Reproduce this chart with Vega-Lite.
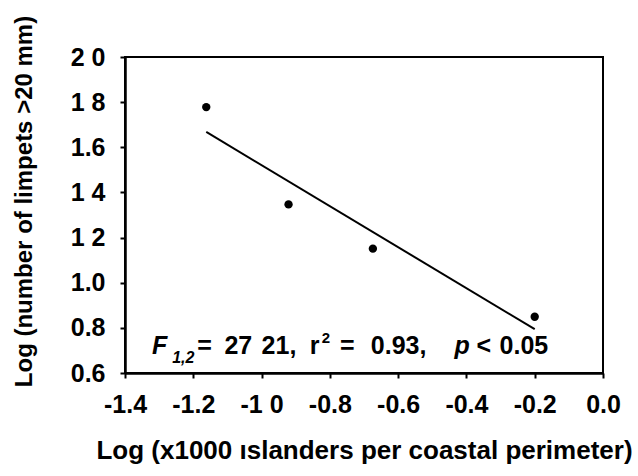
{
  "$schema": "https://vega.github.io/schema/vega-lite/v6.json",
  "width": 478,
  "height": 316,
  "autosize": {"type": "none"},
  "padding": {"left": 125, "top": 57, "right": 35, "bottom": 103},
  "background": "white",
  "config": {
    "view": {"stroke": "black", "strokeWidth": 2},
    "axis": {
      "grid": false,
      "labelFlush": false,
      "labelOverlap": false,
      "domainColor": "black",
      "domainWidth": 2.5,
      "tickColor": "black",
      "tickWidth": 2,
      "tickSize": 5,
      "labelFont": "Liberation Sans",
      "labelFontWeight": "bold",
      "labelFontSize": 25,
      "labelColor": "black",
      "titleFont": "Liberation Sans",
      "titleFontWeight": "bold",
      "titleFontSize": 24,
      "titleColor": "black"
    }
  },
  "datasets": {
    "pts": [
      {"x": -1.162, "y": 1.778},
      {"x": -0.921, "y": 1.347},
      {"x": -0.674, "y": 1.151},
      {"x": -0.2, "y": 0.849}
    ],
    "fit": [
      {"x": -1.162, "y": 1.668},
      {"x": -0.2, "y": 0.794}
    ],
    "ann_normal": [
      {"t": "=", "x": -1.1882, "y": 0.684},
      {"t": "27", "x": -1.1088, "y": 0.684},
      {"t": "21,", "x": -1.0, "y": 0.684},
      {"t": "r", "x": -0.8588, "y": 0.684},
      {"t": "=", "x": -0.7706, "y": 0.684},
      {"t": "0.93,", "x": -0.68, "y": 0.684},
      {"t": "<", "x": -0.3706, "y": 0.684},
      {"t": "0.05", "x": -0.3029, "y": 0.684}
    ],
    "ann_italic": [
      {"t": "F", "x": -1.3206, "y": 0.684},
      {"t": "p", "x": -0.4353, "y": 0.684}
    ],
    "ann_sub": [
      {"t": "1,2", "x": -1.2618, "y": 0.644}
    ],
    "ann_sup": [
      {"t": "2", "x": -0.8235, "y": 0.733}
    ]
  },
  "layer": [
    {
      "data": {"name": "fit"},
      "mark": {"type": "line", "color": "black", "strokeWidth": 2},
      "encoding": {
        "x": {
          "field": "x", "type": "quantitative",
          "scale": {"domain": [-1.4, 0], "nice": false, "zero": false},
          "axis": {
            "values": [-1.4, -1.2, -1.0, -0.8, -0.6, -0.4, -0.2, 0.0],
            "labelPadding": 14,
            "labelExpr": "abs(datum.value + 1) < 0.001 ? '-1 0' : replace(format(datum.value, '.1f'), '\u2212', '-')",
            "title": "Log (x1000 \u0131slanders per coastal perimeter)",
            "titleFontSize": 26,
            "titleY": 64,
            "titleBaseline": "top"
          }
        },
        "y": {
          "field": "y", "type": "quantitative",
          "scale": {"domain": [0.6, 2.0], "nice": false, "zero": false},
          "axis": {
            "values": [0.6, 0.8, 1.0, 1.2, 1.4, 1.6, 1.8, 2.0],
            "labelPadding": 15,
            "labelExpr": "(abs(datum.value - 2) < 0.001 || abs(datum.value - 1.8) < 0.001 || abs(datum.value - 1.4) < 0.001 || abs(datum.value - 1.2) < 0.001) ? replace(format(datum.value, '.1f'), '.', ' ') : format(datum.value, '.1f')",
            "title": "Log (number of limpets >20 mm)",
            "titleX": -101,
            "titleY": 144,
            "titleAngle": -90,
            "titleAlign": "center",
            "titleBaseline": "middle"
          }
        }
      }
    },
    {
      "data": {"name": "pts"},
      "mark": {"type": "circle", "color": "black", "opacity": 1, "size": 70},
      "encoding": {
        "x": {"field": "x", "type": "quantitative"},
        "y": {"field": "y", "type": "quantitative"}
      }
    },
    {
      "data": {"name": "ann_normal"},
      "mark": {"type": "text", "align": "left", "baseline": "alphabetic", "font": "Liberation Sans", "fontWeight": "bold", "fontSize": 25, "color": "black"},
      "encoding": {
        "x": {"field": "x", "type": "quantitative"},
        "y": {"field": "y", "type": "quantitative"},
        "text": {"field": "t"}
      }
    },
    {
      "data": {"name": "ann_italic"},
      "mark": {"type": "text", "align": "left", "baseline": "alphabetic", "font": "Liberation Sans", "fontWeight": "bold", "fontStyle": "italic", "fontSize": 25, "color": "black"},
      "encoding": {
        "x": {"field": "x", "type": "quantitative"},
        "y": {"field": "y", "type": "quantitative"},
        "text": {"field": "t"}
      }
    },
    {
      "data": {"name": "ann_sub"},
      "mark": {"type": "text", "align": "left", "baseline": "alphabetic", "font": "Liberation Sans", "fontWeight": "bold", "fontStyle": "italic", "fontSize": 16, "color": "black"},
      "encoding": {
        "x": {"field": "x", "type": "quantitative"},
        "y": {"field": "y", "type": "quantitative"},
        "text": {"field": "t"}
      }
    },
    {
      "data": {"name": "ann_sup"},
      "mark": {"type": "text", "align": "left", "baseline": "alphabetic", "font": "Liberation Sans", "fontWeight": "bold", "fontSize": 15, "color": "black"},
      "encoding": {
        "x": {"field": "x", "type": "quantitative"},
        "y": {"field": "y", "type": "quantitative"},
        "text": {"field": "t"}
      }
    }
  ]
}
